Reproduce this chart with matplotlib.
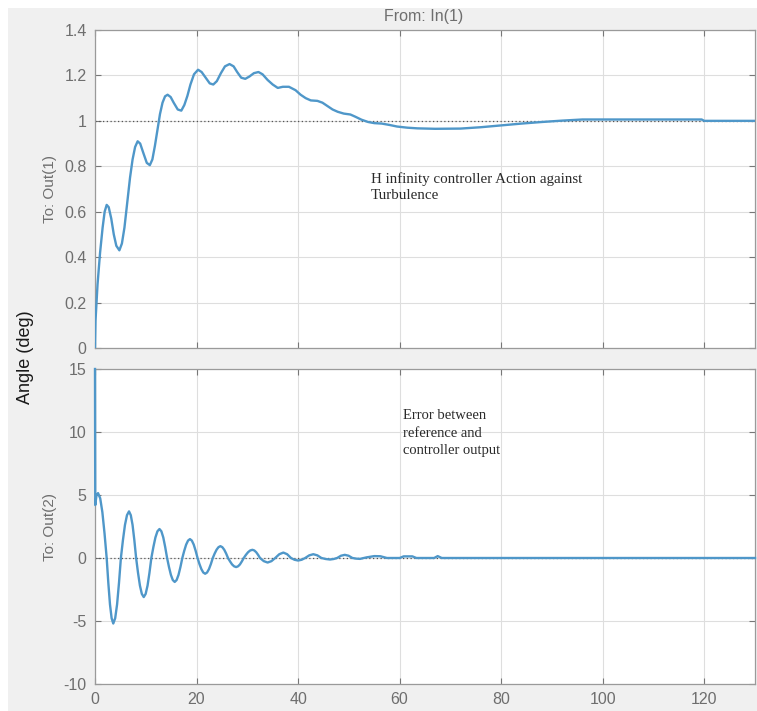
"""
Step response (MATLAB style): H infinity controller output and tracking error.
Values read off the reference picture; edit the lists below to update.
"""
from __future__ import annotations

import matplotlib

matplotlib.use("Agg")
import matplotlib.pyplot as plt
from matplotlib.patches import Rectangle

# Out(1): controller output (deg) vs time (s)
T_OUT1 = [
    0, 0.1, 0.5, 1.0, 1.5, 1.9, 2.3, 2.7, 3.2, 3.7, 4.2, 4.8, 5.3, 5.8, 6.3,
    6.9, 7.4, 7.9, 8.4, 8.9, 9.5, 10.2, 10.8, 11.3, 11.8, 12.3, 12.8, 13.3,
    13.8, 14.3, 14.9, 15.5, 16.3, 17.0, 17.6, 18.2, 18.8, 19.5, 20.3, 21.0,
    21.8, 22.6, 23.3, 24.0, 24.8, 25.6, 26.5, 27.3, 28.0, 28.8, 29.6, 30.4,
    31.3, 32.2, 33.0, 34.0, 35.0, 36.0, 37.0, 38.2, 39.5, 40.5, 41.5, 42.5,
    43.8, 44.8, 45.8, 46.8, 47.8, 49.0, 50.3, 51.3, 52.5, 53.8, 55.0, 56.5,
    58.0, 59.5, 61.5, 63.5, 67.0, 72.0, 76.0, 80.0, 84.0, 88.0, 92.0, 96.0,
    98.5, 110.0, 119.5, 120.0, 130.0,
]
Y_OUT1 = [
    0, 0.12, 0.28, 0.42, 0.53, 0.6, 0.63, 0.62, 0.57, 0.5, 0.45, 0.43, 0.46,
    0.53, 0.63, 0.75, 0.83, 0.885, 0.91, 0.9, 0.86, 0.815, 0.805, 0.83, 0.89,
    0.96, 1.03, 1.08, 1.108, 1.115, 1.105, 1.08, 1.05, 1.045, 1.07, 1.11,
    1.16, 1.205, 1.225, 1.215, 1.19, 1.165, 1.16, 1.175, 1.21, 1.24, 1.25,
    1.24, 1.215, 1.19, 1.185, 1.195, 1.21, 1.215, 1.205, 1.18, 1.16, 1.145,
    1.15, 1.15, 1.135, 1.115, 1.10, 1.09, 1.088, 1.08, 1.065, 1.05, 1.04,
    1.032, 1.028, 1.018, 1.005, 0.995, 0.99, 0.988, 0.982, 0.975, 0.97,
    0.967, 0.965, 0.966, 0.972, 0.98, 0.988, 0.995, 1.001, 1.006, 1.006,
    1.006, 1.006, 1.0, 1.0,
]

# Out(2): error between reference and controller output
T_OUT2 = [
    0, 0.05, 0.3, 0.6, 1.025, 1.45, 1.875, 2.3,
    2.625, 2.95, 3.275, 3.6, 3.975, 4.35, 4.725, 5.1,
    5.5, 5.9, 6.3, 6.7, 7.05, 7.4, 7.75, 8.1,
    8.475, 8.85, 9.225, 9.6, 9.975, 10.35, 10.725, 11.1,
    11.5, 11.9, 12.3, 12.7, 13.075, 13.45, 13.825, 14.2,
    14.575, 14.95, 15.325, 15.7, 16.075, 16.45, 16.825, 17.2,
    17.575, 17.95, 18.325, 18.7, 19.075, 19.45, 19.825, 20.2,
    20.575, 20.95, 21.325, 21.7, 22.075, 22.45, 22.825, 23.2,
    23.575, 23.95, 24.325, 24.7, 25.075, 25.45, 25.825, 26.2,
    26.6, 27.0, 27.4, 27.8, 28.175, 28.55, 28.925, 29.3,
    29.725, 30.15, 30.575, 31.0, 31.375, 31.75, 32.125, 32.5,
    33.25, 34.0, 34.75, 35.5, 36.3, 37.1, 37.85, 38.6, 39.3, 40.0, 40.7,
    41.4, 42.2, 43.0, 43.8, 44.6, 45.45, 46.3, 47.0, 47.7, 48.45, 49.2,
    49.95, 50.7, 51.45, 52.2, 53.5, 55.0, 56.2, 57.5, 60.0, 60.8, 62.5,
    63.3, 66.8, 67.5, 68.3, 130.0,
]
Y_OUT2 = [
    15, 4.2, 5.0, 5.15, 4.74, 3.64, 1.96, 0,
    -1.98, -3.68, -4.78, -5.2, -4.78, -3.68, -1.98, 0,
    1.41, 2.62, 3.40, 3.7, 3.40, 2.62, 1.41, 0,
    -1.18, -2.19, -2.85, -3.1, -2.85, -2.19, -1.18, 0,
    0.87, 1.63, 2.12, 2.3, 2.12, 1.63, 0.87, 0,
    -0.72, -1.34, -1.75, -1.9, -1.75, -1.34, -0.72, 0,
    0.57, 1.06, 1.38, 1.5, 1.38, 1.06, 0.57, 0,
    -0.48, -0.88, -1.15, -1.25, -1.15, -0.88, -0.48, 0,
    0.36, 0.66, 0.86, 0.94, 0.86, 0.66, 0.36, 0,
    -0.27, -0.51, -0.66, -0.72, -0.66, -0.51, -0.27, 0,
    0.25, 0.46, 0.6, 0.65, 0.6, 0.46, 0.25, 0,
    -0.25, -0.36, -0.25, 0, 0.3, 0.43, 0.3, 0, -0.14, -0.2, -0.14,
    0, 0.21, 0.3, 0.21, 0, -0.08, -0.12, -0.08, 0, 0.18, 0.25,
    0.18, 0, -0.05, -0.07, 0.05, 0.15, 0.14, 0.0, 0.0, 0.13, 0.13,
    0.0, 0.0, 0.15, 0.0, 0.0,
]

X_TICKS = [0, 20, 40, 60, 80, 100, 120]
Y1_TICKS = [0, 0.2, 0.4, 0.6, 0.8, 1, 1.2, 1.4]
Y1_LABELS = ["0", "0.2", "0.4", "0.6", "0.8", "1", "1.2", "1.4"]
Y2_TICKS = [-10, -5, 0, 5, 10, 15]

NOTE_TOP = "H infinity controller Action against\nTurbulence"
NOTE_BOTTOM = "Error between\nreference and\ncontroller output"

W, H = 757, 711
LINE_COLOR = "#4f97c9"
GRAY_TEXT = "#6e6e6e"
SPINE = "#9a9a9a"


def style_axes(ax) -> None:
    ax.set_facecolor("white")
    for s in ax.spines.values():
        s.set_color(SPINE)
        s.set_linewidth(0.9)
    ax.tick_params(direction="in", length=4, width=0.8, color="#777777",
                   top=True, right=True, labelsize=11.5, labelcolor=GRAY_TEXT,
                   pad=6)
    ax.grid(True, color="#dedede", linewidth=0.8)
    ax.set_axisbelow(True)
    ax.set_xlim(0, 130)
    ax.set_xticks(X_TICKS)


def plot(out_path: str = "out.png") -> None:
    plt.rcParams["font.family"] = ["Liberation Sans", "DejaVu Sans"]
    plt.rcParams["axes.unicode_minus"] = False
    fig = plt.figure(figsize=(W / 100, H / 100), dpi=100, facecolor="white")
    fig.patches.append(Rectangle((8 / W, 0), 1, 1 - 8 / H, transform=fig.transFigure,
                                 facecolor="#f0f0f0", edgecolor="none", zorder=-10))

    left, right = 95 / W, 755 / W
    ax1 = fig.add_axes([left, 1 - 348 / H, right - left, (348 - 30) / H])
    ax2 = fig.add_axes([left, 1 - 684 / H, right - left, (684 - 369) / H])

    # top panel
    style_axes(ax1)
    ax1.set_ylim(0, 1.4)
    ax1.set_yticks(Y1_TICKS)
    ax1.set_yticklabels(Y1_LABELS)
    ax1.set_xticklabels([])
    ax1.axhline(1, color="#555555", linestyle=(0, (1, 2)), linewidth=0.9, zorder=2)
    ax1.plot(T_OUT1, Y_OUT1, color=LINE_COLOR, linewidth=1.7, zorder=3)
    ax1.text(54.3, 0.775, NOTE_TOP, family="Liberation Serif", fontsize=10.8,
             color="#2a2a2a", va="top", ha="left", linespacing=1.3)

    # bottom panel
    style_axes(ax2)
    ax2.set_ylim(-10, 15)
    ax2.set_yticks(Y2_TICKS)
    ax2.axhline(0, color="#555555", linestyle=(0, (1, 2)), linewidth=0.9, zorder=2)
    ax2.plot(T_OUT2, Y_OUT2, color=LINE_COLOR, linewidth=1.7, zorder=3, clip_on=False)
    ax2.text(60.7, 11.8, NOTE_BOTTOM, family="Liberation Serif", fontsize=10.5,
             color="#2a2a2a", va="top", ha="left", linespacing=1.45)

    # labels
    fig.text(50 / W, 1 - 189 / H, "To: Out(1)", rotation=90, ha="center", va="center",
             fontsize=11, color=GRAY_TEXT)
    fig.text(50 / W, 1 - 527 / H, "To: Out(2)", rotation=90, ha="center", va="center",
             fontsize=11, color=GRAY_TEXT)
    fig.text(26 / W, 1 - 357 / H, "Angle (deg)", rotation=90, ha="center", va="center",
             fontsize=13, color="#1a1a1a")
    fig.text(424 / W, 1 - 17 / H, "From: In(1)", ha="center", va="center",
             fontsize=11.5, color=GRAY_TEXT)

    fig.savefig(out_path, dpi=100, facecolor=fig.get_facecolor())
    plt.close(fig)


def main() -> None:
    plot()


if __name__ == "__main__":
    main()
